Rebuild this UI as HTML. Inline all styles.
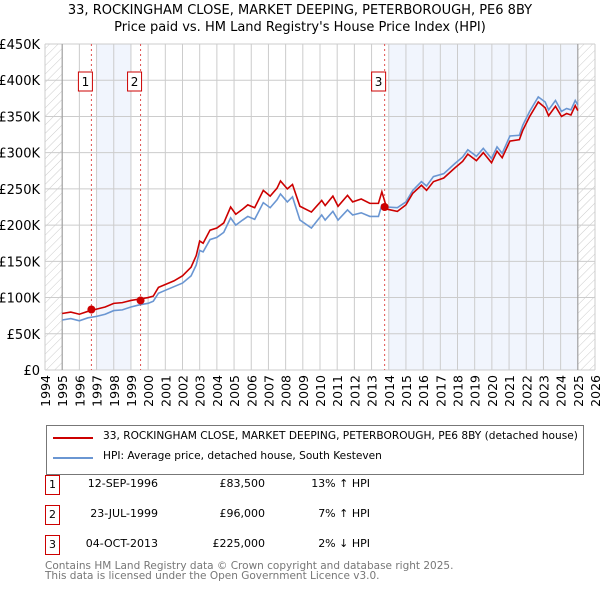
<!DOCTYPE html>
<html><head><meta charset="utf-8"><style>
body{margin:0;background:#fff;font-family:"Liberation Sans","DejaVu Sans",sans-serif;}
#wrap{position:relative;width:600px;height:590px;overflow:hidden}
.t{position:absolute;white-space:nowrap;font-size:12px;color:#000}
</style></head><body><div id="wrap">
<svg id="chart" width="600" height="420" style="position:absolute;left:0;top:0">
<defs><pattern id="hatch" width="6" height="6" patternUnits="userSpaceOnUse" patternTransform="rotate(45)"><line x1="0" y1="0" x2="0" y2="6" stroke="#ccc" stroke-width="1"/></pattern></defs>
<text x="300" y="14" text-anchor="middle" font-size="13" font-family="DejaVu Sans, sans-serif">33, ROCKINGHAM CLOSE, MARKET DEEPING, PETERBOROUGH, PE6 8BY</text>
<text x="300" y="31" text-anchor="middle" font-size="13" font-family="DejaVu Sans, sans-serif">Price paid vs. HM Land Registry's House Price Index (HPI)</text>
<g id="g"></g>
</svg>
<div style="position:absolute;left:46px;top:425px;width:536px;height:48px;border:1px solid #777">
 <div style="position:absolute;left:6px;top:11px;width:40px;height:2px;background:#cc0000"></div>
 <div class="t" style="left:56px;top:4px;font-family:'DejaVu Sans',sans-serif;font-size:10.6px">33, ROCKINGHAM CLOSE, MARKET DEEPING, PETERBOROUGH, PE6 8BY (detached house)</div>
 <div style="position:absolute;left:6px;top:31px;width:40px;height:2px;background:#6a96d2"></div>
 <div class="t" style="left:56px;top:24px;font-family:'DejaVu Sans',sans-serif;font-size:10.6px">HPI: Average price, detached house, South Kesteven</div>
</div>
<div id="rows"></div>
<div class="t" style="left:45px;top:561px;color:#777;font-family:'DejaVu Sans',sans-serif;font-size:10.5px;line-height:10px">Contains HM Land Registry data © Crown copyright and database right 2025.<br>This data is licensed under the Open Government Licence v3.0.</div>
</div>
<script>
const dates=[1995.0,1995.5,1996.0,1996.5,1997.0,1997.5,1998.0,1998.5,1999.0,1999.5,2000.0,2000.3,2000.6,2001.0,2001.5,2002.0,2002.5,2002.8,2003.0,2003.2,2003.6,2004.0,2004.4,2004.8,2005.1,2005.5,2005.8,2006.2,2006.7,2007.1,2007.5,2007.7,2008.1,2008.4,2008.83,2009.5,2010.1,2010.3,2010.75,2011.05,2011.6,2011.9,2012.4,2012.9,2013.4,2013.6,2013.9,2014.5,2015.0,2015.4,2015.9,2016.2,2016.6,2017.2,2017.85,2018.3,2018.6,2019.1,2019.5,2019.98,2020.3,2020.6,2021.05,2021.6,2021.8,2022.2,2022.7,2023.1,2023.3,2023.7,2024.05,2024.35,2024.6,2024.85,2025.0];
const hpi=[69,71,68,72,74,77,82,83,87,90,92,95,106,110,115,120,130,145,165,163,180,183,190,210,200,207,212,208,231,224,235,243,232,239,207,196,214,207,219,207,221,214,217,212,212,228,225,224,232,248,260,254,267,271,285,294,304,295,306,292,308,299,323,324,338,357,377,370,359,372,357,361,359,372,366];
const prop=[78,80,77,81,84,87,92,93,96,98,100,102,114,118,123,130,142,158,178,175,193,196,203,225,215,222,228,224,248,240,251,261,250,256,226,218,234,227,240,226,241,232,236,230,230,246,222,219,228,244,255,248,260,265,279,288,298,289,300,286,302,293,316,318,331,350,370,362,351,364,350,354,352,365,358];
const saleDates=[1996.70,1999.56,2013.76];
const salePrices=[83.5,96,225];
const saleLabels=["1","2","3"];
const saleDateText=["12-SEP-1996","23-JUL-1999","04-OCT-2013"];
const salePriceText=["£83,500","£96,000","£225,000"];
const saleHpiText=["13% ↑ HPI","7% ↑ HPI","2% ↓ HPI"];
const yTicks=[0,50,100,150,200,250,300,350,400,450];
const yTickLabels=["£0","£50K","£100K","£150K","£200K","£250K","£300K","£350K","£400K","£450K"];
const xTicks=[];for(let y=1994;y<=2026;y++)xTicks.push(y);
const X0=45,X1=595,Y0=370,Y1=44;
const xs=v=>X0+(v-1994)/32*(X1-X0);
const ys=v=>Y0-v/450*(Y0-Y1);
const NS="http://www.w3.org/2000/svg",g=document.getElementById('g');
function mk(t,a,p){const e=document.createElementNS(NS,t);for(const k in a)e.setAttribute(k,a[k]);(p||g).appendChild(e);return e;}
let e;
e=mk('rect',{x:xs(1997),y:Y1,width:xs(1999)-xs(1997),height:Y0-Y1,fill:'#eef3fc',opacity:0.8});


e=mk('rect',{x:xs(2014),y:Y1,width:xs(2025)-xs(2014),height:Y0-Y1,fill:'#eef3fc',opacity:0.8});


e=mk('rect',{x:X0,y:Y1,width:xs(1995)-X0,height:Y0-Y1,fill:'url(#hatch)'});


e=mk('rect',{x:xs(2025),y:Y1,width:X1-xs(2025),height:Y0-Y1,fill:'url(#hatch)'});


yTicks.forEach((v,i)=>{
 e=mk('line',{x1:X0,x2:X1,y1:ys(v),y2:ys(v),stroke:'#ccc','stroke-width':1});
 
 
 e=mk('text',{x:40,y:ys(v)+5,'text-anchor':'end','font-size':13,'font-family':'DejaVu Sans, sans-serif'});e.textContent=yTickLabels[i];
 
 
});
xTicks.forEach(v=>{
 e=mk('line',{x1:xs(v),x2:xs(v),y1:Y1,y2:Y0,stroke:'#ccc','stroke-width':1});
 
 
 e=mk('text',{x:0,y:0,'text-anchor':'end','font-size':12.5,'font-family':'DejaVu Sans, sans-serif',transform:`translate(${xs(v)+5},375) rotate(-90)`});e.textContent=v;
 
 
});
[1995,2025].forEach(v=>{e=mk('line',{x1:xs(v),x2:xs(v),y1:Y1,y2:Y0,stroke:'#999','stroke-width':1});
 
 });
saleDates.forEach((d,i)=>{
 e=mk('line',{x1:xs(d),x2:xs(d),y1:Y1,y2:Y0,stroke:'#e05050','stroke-width':1,'stroke-dasharray':'2,3'});
 
 
});
e=mk('polyline',{points:dates.map((d,i)=>xs(d)+','+ys(hpi[i])).join(' '),fill:'none',stroke:'#6a96d2','stroke-width':1.6});


e=mk('polyline',{points:dates.map((d,i)=>xs(d)+','+ys(prop[i])).join(' '),fill:'none',stroke:'#cc0000','stroke-width':1.6});


saleDates.forEach((d,i)=>{
 e=mk('circle',{cx:xs(d),cy:ys(salePrices[i]),r:4,fill:'#cc0000'});
 
 
 e=mk('rect',{x:xs(d)-13,y:72,width:14,height:19,fill:'#fff',stroke:'#cc0000','stroke-width':1});
 
 
 e=mk('text',{x:xs(d)-6,y:86,'text-anchor':'middle','font-size':12,'font-family':'DejaVu Sans, sans-serif'});e.textContent=saleLabels[i];
 
 
});
const rows=document.getElementById('rows');
saleLabels.forEach((l,i)=>{
 const top=474+i*30;
 const r=document.createElement('div');
 
 
 r.style.cssText=`position:absolute;left:0;top:${top}px;width:600px;height:22px;font-family:'DejaVu Sans',sans-serif;font-size:11px`;
 r.innerHTML=`<div style="position:absolute;left:45px;top:1px;width:13px;height:18px;border:1px solid #cc0000;text-align:center;line-height:18px">${l}</div>
 <div class="t" style="right:442px;top:3px;font-size:11px">${saleDateText[i]}</div>
 <div class="t" style="right:335px;top:3px;font-size:11px">${salePriceText[i]}</div>
 <div class="t" style="right:230px;top:3px;font-size:11px">${saleHpiText[i]}</div>`;
 rows.appendChild(r);
});
</script></body></html>
